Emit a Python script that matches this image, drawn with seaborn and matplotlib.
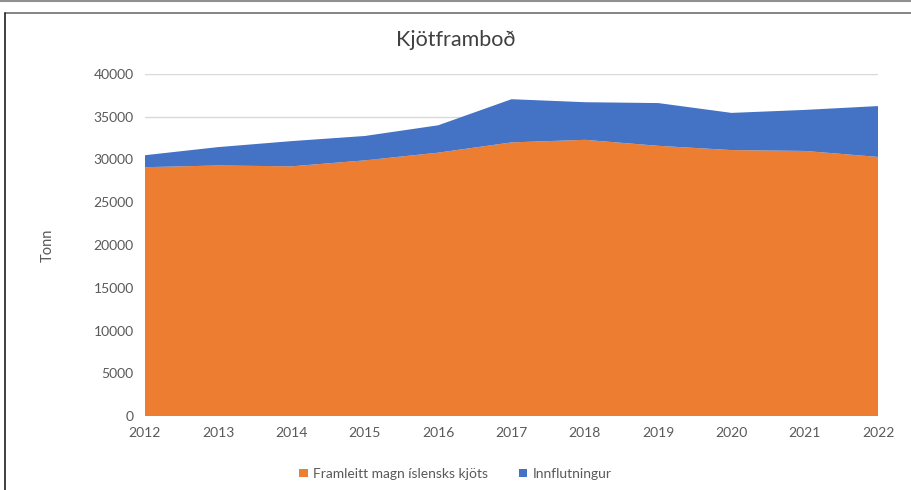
import numpy as np
import pandas as pd
import matplotlib
matplotlib.use("Agg")
import matplotlib.pyplot as plt
from matplotlib.lines import Line2D
import seaborn as sns

# gögn lesin af myndinni (tonn)
years = [2012, 2013, 2014, 2015, 2016, 2017, 2018, 2019, 2020, 2021, 2022]
framleitt = [29100, 29300, 29200, 29900, 30800, 32000, 32300, 31600, 31100, 31000, 30300]
innflutningur = [1400, 2150, 2950, 2850, 3200, 5050, 4400, 5000, 4350, 4800, 5950]

df = pd.DataFrame({"ar": years,
                   "Framleitt magn íslensks kjöts": framleitt,
                   "Innflutningur": innflutningur})

sns.set_theme(style="white")
plt.rcParams["font.family"] = ["Lato", "DejaVu Sans"]

orange = "#ED7D31"
blue = "#4472C4"
grey_txt = "#595959"

fig = plt.figure(figsize=(9.11, 4.90), dpi=100)
ax = fig.add_axes([0.159, 0.151, 0.805, 0.698])

ax.stackplot(df["ar"], df["Framleitt magn íslensks kjöts"], df["Innflutningur"],
             colors=[orange, blue], labels=["Framleitt magn íslensks kjöts", "Innflutningur"],
             linewidth=0, edgecolor="none", zorder=2)

ax.set_xlim(2012, 2022)
ax.set_ylim(0, 40000)
ax.set_yticks(np.arange(0, 40001, 5000))
ax.set_xticks(years)
ax.yaxis.grid(True, color="#D9D9D9", linewidth=1, zorder=0)
ax.set_axisbelow(True)
sns.despine(ax=ax, left=True, bottom=True, top=True, right=True)
ax.tick_params(axis="both", colors=grey_txt, labelsize=10, length=0, pad=8)
ax.set_ylabel("Tonn", color=grey_txt, fontsize=10.5, labelpad=28)

fig.text(0.5, 0.918, "Kjötframboð", ha="center", va="center", fontsize=15.5, color="#404040")

handles, labels = ax.get_legend_handles_labels()
fig.legend(handles, labels, loc="center", bbox_to_anchor=(0.5, 0.033), ncol=2, frameon=False,
           fontsize=10, labelcolor=grey_txt, handlelength=0.6, handleheight=0.6,
           handletextpad=0.4, columnspacing=2.2)

# rammalínur skjáskotsins
fig.add_artist(Line2D([0, 1], [0.997, 0.997], transform=fig.transFigure,
                      color="#909090", linewidth=1.5))
fig.add_artist(Line2D([0.006, 1], [0.973, 0.973], transform=fig.transFigure,
                      color="#707070", linewidth=1.2))
fig.add_artist(Line2D([0.006, 0.006], [0, 0.973], transform=fig.transFigure,
                      color="#202020", linewidth=1.2))

fig.savefig("out.png", dpi=100)
